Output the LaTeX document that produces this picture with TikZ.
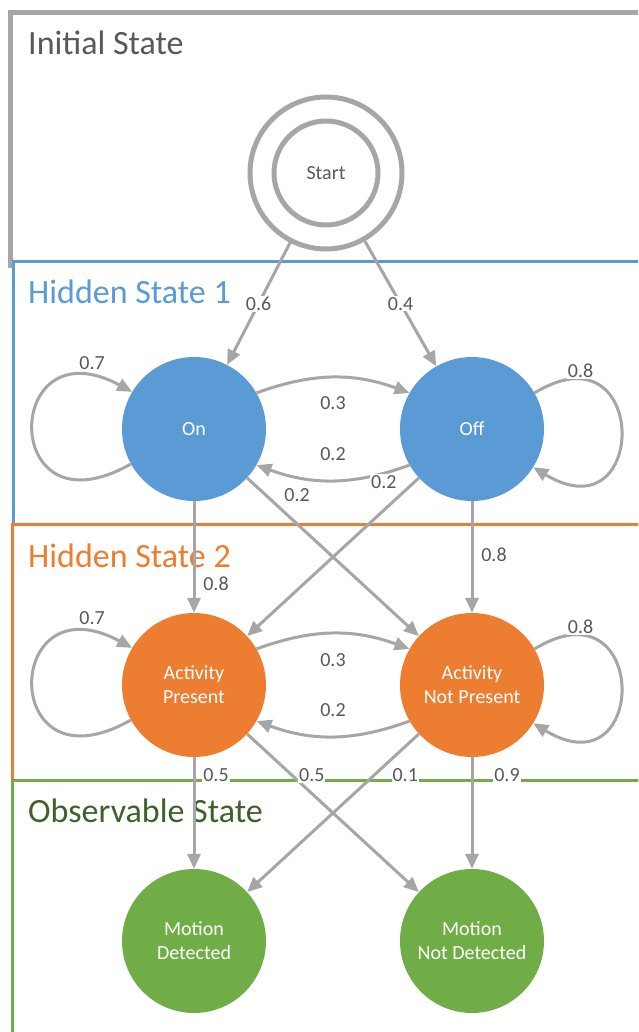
\documentclass[tikz,border=0pt]{standalone}
\usepackage{fontspec}
\setmainfont{Carlito}
\usetikzlibrary{arrows.meta}

\definecolor{edgegray}{HTML}{A6A6A6}
\definecolor{textgray}{HTML}{595959}
\definecolor{hsblue}{HTML}{5B9BD5}
\definecolor{hsorange}{HTML}{ED7D31}
\definecolor{obsgreen}{HTML}{70AD47}
\definecolor{obsdark}{HTML}{3D6128}

\begin{document}
\begin{tikzpicture}[x=1pt,y=1pt,
  state/.style={circle, minimum size=144pt, inner sep=0pt, text=white,
    align=center, font=\fontsize{20}{24}\selectfont},
  link/.style={draw=edgegray, line width=3pt,
    -{Triangle[length=15pt,width=13pt]}},
  lbl/.style={fill=white, text=textgray, inner sep=1pt,
    font=\fontsize{20}{24}\selectfont},
  title/.style={anchor=base west, inner sep=0pt,
    font=\fontsize{34}{40}\selectfont},
  frame/.style={line width=3pt}
]
\useasboundingbox (0,0) rectangle (638,-1032);
\fill[white] (0,0) rectangle (638,-1032);

% section frames (open to the right)
\begin{scope}
\clip (0,0) rectangle (638,-1032);
\draw[line width=5pt, edgegray] (700,-12.5) -- (10.5,-12.5) -- (10.5,-268);
\draw[frame, hsblue] (13,-261) rectangle (700,-524);
\draw[frame, hsorange] (12,-524) rectangle (700,-780);
\draw[frame, obsgreen] (12,-780) rectangle (700,-1100);
\end{scope}

% section titles
\node[title, text=textgray] (tInit) at (28,-55) {Initial State};
\node[title, text=hsblue] (tHid1) at (28,-303) {Hidden State 1};
\node[title, text=hsorange] (tHid2) at (28,-567) {Hidden State 2};
\node[title, text=obsdark] (tObs) at (28,-822) {Observable State};

% states
\node[circle, draw=edgegray, line width=5pt, minimum size=152pt, inner sep=0pt,
  text=textgray, font=\fontsize{20}{24}\selectfont] (Start) at (326,-173) {Start};
\draw[edgegray, line width=5pt] (Start.center) circle (52);

\node[state, fill=hsblue] (On) at (194,-429) {On};
\node[state, fill=hsblue] (Off) at (472,-429) {Off};
\node[state, fill=hsorange] (AP) at (194,-685) {Activity\\Present};
\node[state, fill=hsorange] (ANP) at (472,-685) {Activity\\Not Present};
\node[state, fill=obsgreen] (MD) at (194,-941) {Motion\\Detected};
\node[state, fill=obsgreen] (MND) at (472,-941) {Motion\\Not Detected};

% initial transitions
\draw[link] (Start) -- node[lbl] {0.6} (On);
\draw[link] (Start) -- node[lbl] {0.4} (Off);

% hidden state 1 transitions
\draw[link] (On.30) to[bend left=20] node[lbl, yshift=-25pt] {0.3} (Off.150);
\draw[link] (Off.210) to[bend left=20] node[lbl, yshift=26pt] {0.2} (On.-30);
\draw[link] (On.209) .. controls +(-132,-75) and +(-130,70) .. (On.149)
  node[lbl, at end, xshift=-40pt, yshift=29pt] {0.7};
\draw[link] (Off.30) .. controls +(115,70) and +(116,-70) .. (Off.-32)
  node[lbl, at start, xshift=46pt, yshift=22pt] {0.8};

% hidden state 1 -> hidden state 2
\draw[link] (On) -- node[lbl, pos=0.74, xshift=22pt] {0.8} (AP);
\draw[link] (Off) -- node[lbl, pos=0.48, xshift=22pt] {0.8} (ANP);
\draw[link] (On) -- node[lbl, at start, xshift=50pt, yshift=-17pt] {0.2} (ANP);
\draw[link] (Off) -- node[lbl, at start, xshift=-35pt, yshift=-4pt] {0.2} (AP);

% hidden state 2 transitions
\draw[link] (AP.30) to[bend left=20] node[lbl, yshift=-26pt] {0.3} (ANP.150);
\draw[link] (ANP.210) to[bend left=20] node[lbl, yshift=26pt] {0.2} (AP.-30);
\draw[link] (AP.209) .. controls +(-132,-75) and +(-130,70) .. (AP.149)
  node[lbl, at end, xshift=-40pt, yshift=30pt] {0.7};
\draw[link] (ANP.30) .. controls +(115,70) and +(116,-70) .. (ANP.-32)
  node[lbl, at start, xshift=46pt, yshift=22pt] {0.8};

% emissions
\draw[link] (AP) -- node[lbl, pos=0.16, xshift=22pt] {0.5} (MD);
\draw[link] (AP) -- node[lbl, pos=0.26, xshift=20pt] {0.5} (MND);
\draw[link] (ANP) -- node[lbl, pos=0.26, xshift=31pt] {0.1} (MD);
\draw[link] (ANP) -- node[lbl, pos=0.16, xshift=35pt] {0.9} (MND);
\end{tikzpicture}
\end{document}
